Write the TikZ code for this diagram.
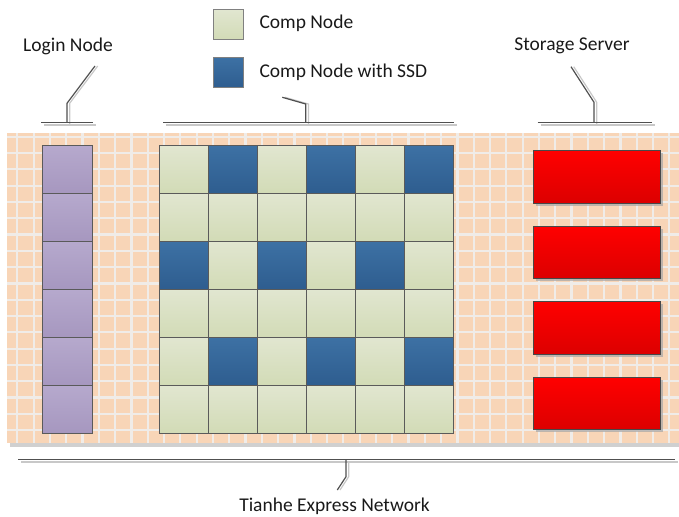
\documentclass[tikz,border=0pt]{standalone}
\usepackage{fontspec}
\setmainfont{Carlito}
\usetikzlibrary{shadows}
\definecolor{panelfill}{HTML}{F8D5B7}
\definecolor{panelgrid}{HTML}{F0ECE8}
\definecolor{panelshade}{HTML}{D0D0D0}
\definecolor{cellborder}{HTML}{5A5A5A}
\definecolor{logintop}{HTML}{B6A9CD}
\definecolor{loginbot}{HTML}{A697BF}
\definecolor{greentop}{HTML}{E1E6D0}
\definecolor{greenbot}{HTML}{D2DBB6}
\definecolor{bluetop}{HTML}{3D71A4}
\definecolor{bluebot}{HTML}{2E5D8F}
\definecolor{redtop}{HTML}{FF0000}
\definecolor{redbot}{HTML}{DC0000}
\definecolor{leaderdark}{HTML}{505050}
\definecolor{leaderlight}{HTML}{C8C8C8}
\begin{document}
\begin{tikzpicture}[x=1pt,y=-1pt,
  font=\fontsize{19.5}{23}\selectfont,
  box/.style={draw=cellborder, line width=1.1pt, inner sep=0pt, anchor=north west},
  logincell/.style={box, minimum width=50pt, minimum height=48pt, top color=logintop, bottom color=loginbot},
  compcell/.style={box, minimum width=49pt, minimum height=48pt, top color=greentop, bottom color=greenbot},
  ssdcell/.style={box, minimum width=49pt, minimum height=48pt, top color=bluetop, bottom color=bluebot},
  storebox/.style={box, draw=cellborder!80!black, minimum width=127pt, minimum height=52.5pt,
    top color=redtop, bottom color=redbot,
    drop shadow={shadow xshift=2.5pt, shadow yshift=-2.5pt, fill=gray!70, opacity=.7}},
  legendbox/.style={box, line width=0.8pt, draw=gray, minimum width=30pt, minimum height=30pt},
  label/.style={inner sep=0pt, text=black!90},
  leader/.style={draw=leaderdark, line width=1.2pt},
  leadershade/.style={draw=leaderlight, line width=1.2pt},
  gridline/.style={draw=panelgrid, line width=2.2pt}]
\useasboundingbox (0,0) rectangle (679,516);

% network panel with its shadow and tiled pattern
\fill[panelshade] (10,136) rectangle (682,447);
\fill[panelfill] (7,133) rectangle (679,443);
\begin{scope}
  \clip (7,133) rectangle (679,443);
  \foreach \k in {0,...,41} \draw[gridline] ({17.3+16.3*\k},133) -- ++(0,310);
  \foreach \k in {0,...,19} \draw[gridline] (7,{136.7+16.3*\k}) -- ++(672,0);
\end{scope}

% login nodes
\foreach \i in {1,...,6}
  \node[logincell] (l\i) at (42,{145+47.95*(\i-1)}) {};

% compute nodes: 6 x 6, some with SSD
\foreach \r/\pat in {1/{0,1,0,1,0,1},2/{0,0,0,0,0,0},3/{1,0,1,0,1,0},
                     4/{0,0,0,0,0,0},5/{0,1,0,1,0,1},6/{0,0,0,0,0,0}} {
  \foreach \s [count=\c] in \pat {
    \ifnum\s=1
      \node[ssdcell] (c\r-\c) at ({159.3+49*(\c-1)},{145+47.95*(\r-1)}) {};
    \else
      \node[compcell] (c\r-\c) at ({159.3+49*(\c-1)},{145+47.95*(\r-1)}) {};
    \fi
  }
}

% storage servers
\foreach \i in {1,...,4}
  \node[storebox] (s\i) at (533,{150+75.6*(\i-1)}) {};

% legend
\node[legendbox, top color=greentop, bottom color=greenbot] (lg1) at (213.3,9.3) {};
\node[legendbox, top color=bluetop, bottom color=bluebot] (lg2) at (213.3,57.3) {};
\node[label, anchor=west] (lgt1) at (259.3,23.5) {Comp Node};
\node[label, anchor=west] (lgt2) at (259.3,72) {Comp Node with SSD};

% titles
\node[label] (tlogin) at (68,46) {Login Node};
\node[label] (tstore) at (572,46) {Storage Server};
\node[label] (tnet) at (334.5,506) {Tianhe Express Network};

% leader coordinates
\coordinate (la) at (41,122.3);   \coordinate (lb) at (93,122.3);
\coordinate (lk) at (67,122.3);   \coordinate (lj) at (67,103.3);  \coordinate (le) at (95,66);
\coordinate (ca) at (163,122.3);  \coordinate (cb) at (454,122.3);
\coordinate (ck) at (305.7,122.3);\coordinate (cj) at (305.7,104); \coordinate (ce) at (282.3,97.3);
\coordinate (sa) at (537.7,122.3);\coordinate (sb) at (652.3,122.3);
\coordinate (sk) at (594,122.3);  \coordinate (sj) at (594,102.3); \coordinate (se) at (571,66.7);
\coordinate (na) at (18,459.3);   \coordinate (nb) at (675,459.3);
\coordinate (nk) at (346,459.3);  \coordinate (nj) at (346,476.7); \coordinate (ne) at (337.3,490);

% leader lines: faint offset copy first, dark line on top
\foreach \g in {l,c,s,n} {
  \draw[leadershade] ([shift={(3,2.7)}]\g a) -- ([shift={(3,2.7)}]\g b);
  \draw[leadershade] ([shift={(2.7,2.7)}]\g k) -- ([shift={(2.7,0)}]\g j) -- ([shift={(2.7,0)}]\g e);
  \draw[leader] (\g a) -- (\g b);
  \draw[leader] (\g k) -- (\g j) -- (\g e);
}
\end{tikzpicture}
\end{document}
